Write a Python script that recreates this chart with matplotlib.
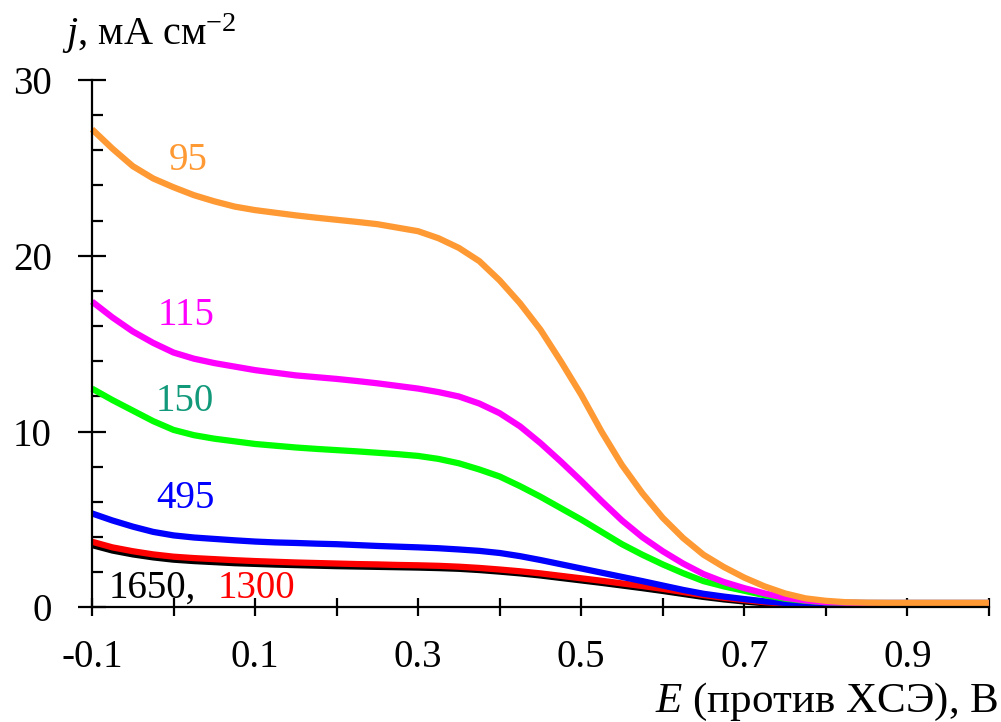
"""Поляризационные кривые j(E) для серии образцов."""

import matplotlib

matplotlib.use("Agg")
import matplotlib.pyplot as plt
from matplotlib.ticker import FixedLocator

plt.rcParams["font.family"] = ["Liberation Serif", "DejaVu Serif"]
plt.rcParams["mathtext.fontset"] = "custom"
plt.rcParams["mathtext.rm"] = "Liberation Serif"
plt.rcParams["mathtext.it"] = "Liberation Serif:italic"

# потенциал, В (шаг считывания 0.025)
potential = [-0.1, -0.075, -0.05, -0.025, 0.0,
             0.025, 0.05, 0.075, 0.1,
             0.125, 0.15, 0.175, 0.2,
             0.225, 0.25, 0.275, 0.3,
             0.325, 0.35, 0.375, 0.4,
             0.425, 0.45, 0.475, 0.5,
             0.525, 0.55, 0.575, 0.6,
             0.625, 0.65, 0.675, 0.7,
             0.725, 0.75, 0.775, 0.8,
             0.825, 0.85, 0.875, 0.9,
             0.925, 0.95, 0.975, 1.0]

# плотность тока, мА/см2
j_1650 = [3.55, 3.24, 3.02, 2.85, 2.72,
          2.64, 2.58, 2.52, 2.48,
          2.44, 2.41, 2.38, 2.35,
          2.33, 2.31, 2.29, 2.27,
          2.24, 2.2, 2.13, 2.04,
          1.94, 1.82, 1.68, 1.54,
          1.4, 1.25, 1.1, 0.94,
          0.77, 0.6, 0.46, 0.34,
          0.24, 0.17, 0.15, 0.16,
          0.18, 0.18, 0.18, 0.18,
          0.18, 0.18, 0.18, 0.18]
j_1300 = [3.74, 3.42, 3.2, 3.02, 2.89,
          2.81, 2.75, 2.69, 2.64,
          2.6, 2.56, 2.53, 2.5,
          2.47, 2.45, 2.42, 2.4,
          2.37, 2.32, 2.25, 2.16,
          2.06, 1.94, 1.8, 1.66,
          1.52, 1.37, 1.22, 1.06,
          0.88, 0.7, 0.55, 0.42,
          0.3, 0.22, 0.2, 0.2,
          0.22, 0.22, 0.22, 0.22,
          0.22, 0.22, 0.22, 0.22]
j_495 = [5.35, 4.95, 4.6, 4.3, 4.1,
         3.98, 3.9, 3.82, 3.75,
         3.7, 3.67, 3.63, 3.6,
         3.55, 3.5, 3.46, 3.42,
         3.37, 3.3, 3.22, 3.1,
         2.92, 2.7, 2.46, 2.22,
         1.98, 1.74, 1.5, 1.25,
         1.0, 0.78, 0.62, 0.48,
         0.35, 0.26, 0.22, 0.22,
         0.24, 0.24, 0.24, 0.24,
         0.24, 0.24, 0.24, 0.24]
j_150 = [12.45, 11.8, 11.2, 10.6, 10.1,
         9.8, 9.6, 9.45, 9.3,
         9.2, 9.1, 9.02, 8.95,
         8.88, 8.8, 8.72, 8.62,
         8.45, 8.2, 7.85, 7.45,
         6.9, 6.3, 5.65, 5.0,
         4.3, 3.6, 3.0, 2.45,
         1.95, 1.5, 1.2, 0.95,
         0.7, 0.5, 0.38, 0.3,
         0.27, 0.26, 0.26, 0.26,
         0.26, 0.26, 0.26, 0.26]
j_115 = [17.4, 16.5, 15.7, 15.05, 14.5,
         14.15, 13.9, 13.7, 13.5,
         13.35, 13.2, 13.1, 13.0,
         12.88, 12.75, 12.6, 12.45,
         12.25, 12.0, 11.6, 11.05,
         10.3, 9.35, 8.3, 7.2,
         6.05, 4.95, 4.0, 3.2,
         2.5, 1.9, 1.45, 1.1,
         0.8, 0.55, 0.4, 0.3,
         0.27, 0.26, 0.26, 0.26,
         0.26, 0.26, 0.26, 0.26]
j_95 = [27.2, 26.1, 25.1, 24.4, 23.9,
        23.45, 23.1, 22.8, 22.6,
        22.45, 22.3, 22.17, 22.05,
        21.93, 21.8, 21.6, 21.4,
        21.0, 20.45, 19.7, 18.6,
        17.3, 15.8, 14.0, 12.1,
        10.0, 8.1, 6.5, 5.1,
        3.95, 3.0, 2.3, 1.7,
        1.2, 0.8, 0.52, 0.38,
        0.3, 0.27, 0.26, 0.26,
        0.26, 0.26, 0.26, 0.26]

x_ticks = [-0.1, 0.0, 0.1, 0.2, 0.3, 0.4, 0.5, 0.6, 0.7, 0.8, 0.9, 1.0]
x_tick_labels = ["-0.1", "", "0.1", "", "0.3", "", "0.5", "", "0.7", "", "0.9", ""]
y_ticks = [0, 10, 20, 30]
y_minor = [2, 4, 6, 8, 12, 14, 16, 18, 22, 24, 26, 28]

ORANGE = "#ff9933"

fig = plt.figure(figsize=(10.01, 7.22), dpi=100)
ax = fig.add_axes((0.0919, 0.1586, 0.896, 0.7306))

# порядок отрисовки: оранжевая кривая поверх остальных
series = [
    (j_1650, "black"),
    (j_1300, "#ff0000"),
    (j_495, "#0000ff"),
    (j_150, "#00ff00"),
    (j_115, "#ff00ff"),
    (j_95, ORANGE),
]
for values, color in series:
    ax.plot(potential, values, color=color, lw=4.5, solid_capstyle="butt",
            solid_joinstyle="round", clip_on=False)

ax.set_xlim(-0.1, 1.0)
ax.set_ylim(0, 30)
for side in ("top", "right"):
    ax.spines[side].set_visible(False)
ax.spines["left"].set_linewidth(1.6)
ax.spines["bottom"].set_linewidth(1.6)

ax.xaxis.set_major_locator(FixedLocator(x_ticks))
ax.set_xticklabels(x_tick_labels)
ax.yaxis.set_major_locator(FixedLocator(y_ticks))
ax.yaxis.set_minor_locator(FixedLocator(y_minor))
ax.tick_params(axis="x", direction="inout", length=13, width=1.6, pad=16,
               labelsize=28)
ax.tick_params(axis="y", which="major", direction="inout", length=20, width=1.6,
               pad=19, labelsize=28)
ax.tick_params(axis="y", which="minor", direction="in", length=8, width=1.6)

# подписи кривых
ax.text(0.018, 25.4, "95", color=ORANGE, fontsize=28, ha="center", va="center")
ax.text(0.015, 16.6, "115", color="#ff00ff", fontsize=28, ha="center", va="center")
ax.text(0.014, 11.7, "150", color="#11997a", fontsize=28, ha="center", va="center")
ax.text(0.014, 6.2, "495", color="#0000ff", fontsize=28, ha="center", va="center")
ax.text(-0.080, 0.55, "1650,", color="black", fontsize=28, va="baseline")
ax.text(0.0546, 0.55, "1300", color="#ff0000", fontsize=28, va="baseline")

fig.text(62 / 1001, 1 - 45 / 722, "$j$, мА см$^{-2}$", fontsize=29,
         ha="left", va="baseline")
fig.text(998 / 1001, 1 - 712 / 722, "$E$ (против ХСЭ), В", fontsize=31,
         ha="right", va="baseline")

fig.savefig("out.png", dpi=100)
